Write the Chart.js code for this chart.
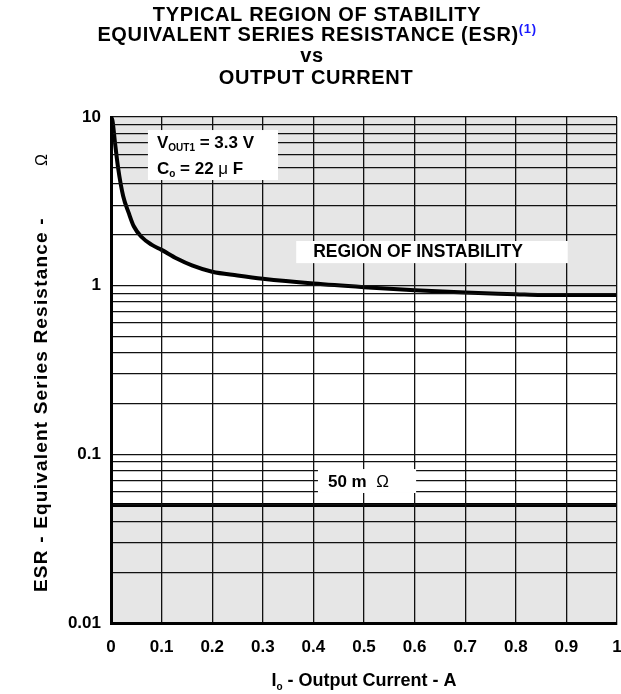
<!DOCTYPE html>
<html>
<head>
<meta charset="utf-8">
<script src="https://cdn.jsdelivr.net/npm/chart.js@4/dist/chart.umd.min.js"></script>
<style>
html,body{margin:0;padding:0;background:#fff;}
#wrap{width:621px;height:694px;}
</style>
</head>
<body>
<div id="wrap"><canvas id="c" width="621" height="694"></canvas></div>
<script>
// ---- data ----
const currentA = [0, 0.003, 0.008, 0.014, 0.024, 0.035, 0.045, 0.06, 0.08, 0.1, 0.13, 0.16, 0.2, 0.25, 0.3, 0.4, 0.5, 0.6, 0.7, 0.8, 0.85, 0.9, 1.0];
const esrBoundary = [10, 9.5, 7.0, 5.0, 3.4, 2.7, 2.25, 1.95, 1.75, 1.63, 1.45, 1.32, 1.21, 1.15, 1.10, 1.03, 0.98, 0.94, 0.91, 0.89, 0.88, 0.88, 0.88];
const limitCurrent = [0, 1];
const limitEsr = [0.05, 0.05];
const xTickValues = [0, 0.1, 0.2, 0.3, 0.4, 0.5, 0.6, 0.7, 0.8, 0.9, 1];
const yTickValues = [0.01,0.02,0.03,0.04,0.05,0.06,0.07,0.08,0.09,0.1,0.2,0.3,0.4,0.5,0.6,0.7,0.8,0.9,1,2,3,4,5,6,7,8,9,10];
const yLabelValues = [0.01, 0.1, 1, 10];
const yLabelTexts = ['0.01', '0.1', '1', '10'];

const FONT = '"Liberation Sans", Arial, Helvetica, sans-serif';
const GRAY = '#e6e6e6';

function drawRich(ctx, parts, x, y, align, spacing) {
  ctx.letterSpacing = (spacing || 0) + 'px';
  let total = 0;
  parts.forEach(p => { ctx.font = p.font; p.w = ctx.measureText(p.t).width; total += p.w; });
  let cx = align === 'center' ? x - total / 2 : (align === 'right' ? x - total : x);
  ctx.textAlign = 'left';
  ctx.textBaseline = 'alphabetic';
  parts.forEach(p => {
    ctx.font = p.font;
    ctx.fillStyle = p.color || '#000';
    ctx.fillText(p.t, cx, y + (p.dy || 0));
    cx += p.w;
  });
  ctx.letterSpacing = '0px';
}

const decor = {
  id: 'decor',
  afterDraw(chart) {
    const ctx = chart.ctx;
    const xs = chart.scales.x, ys = chart.scales.y;
    const B17 = 'bold 17px ' + FONT;
    const BT = 'bold 20px ' + FONT;
    const B10 = 'bold 10px ' + FONT;
    ctx.save();
    // title
    drawRich(ctx, [{t: 'TYPICAL REGION OF STABILITY', font: BT}], 317, 21, 'center', 0.65);
    drawRich(ctx, [{t: 'EQUIVALENT SERIES RESISTANCE (ESR)', font: BT}, {t: '(1)', font: 'bold 13px ' + FONT, dy: -8, color: '#1a1aff'}], 317, 41, 'center', 0.65);
    drawRich(ctx, [{t: 'vs', font: BT}], 312, 62, 'center', 0.65);
    drawRich(ctx, [{t: 'OUTPUT CURRENT', font: BT}], 316, 84, 'center', 0.65);

    // annotation boxes (anchored in data units)
    function box(x0, x1, yTop, yBot) {
      const l = xs.getPixelForValue(x0), r = xs.getPixelForValue(x1);
      const t = ys.getPixelForValue(yTop), b = ys.getPixelForValue(yBot);
      ctx.fillStyle = '#fff';
      ctx.fillRect(l, t, r - l, b - t);
      return {l, r, t, b};
    }
    let bx = box(0.073, 0.330, 8.37, 4.23);
    drawRich(ctx, [{t: 'V', font: B17}, {t: 'OUT1', font: B10, dy: 3}, {t: ' = 3.3 V', font: B17}], bx.l + 9, bx.t + 18, 'left');
    drawRich(ctx, [{t: 'C', font: B17}, {t: 'o', font: B10, dy: 3}, {t: ' = 22 ', font: B17}, {t: 'μ', font: '17px ' + FONT}, {t: ' F', font: B17}], bx.l + 9, bx.t + 44, 'left');

    bx = box(0.366, 0.903, 1.84, 1.36);
    drawRich(ctx, [{t: 'REGION OF INSTABILITY', font: 'bold 17.5px ' + FONT}], bx.l + 17, bx.t + 16, 'left');

    bx = box(0.409, 0.603, 0.0818, 0.059);
    drawRich(ctx, [{t: '50 m ', font: B17}, {t: ' Ω', font: '17px ' + FONT}], bx.l + 10, bx.t + 18, 'left');

    // axis titles
    drawRich(ctx, [{t: 'I', font: 'bold 18px ' + FONT}, {t: 'o', font: B10, dy: 4}, {t: ' - Output Current - A', font: 'bold 18px ' + FONT}], 364, 686, 'center');
    ctx.save();
    ctx.translate(47, 592);
    ctx.rotate(-Math.PI / 2);
    drawRich(ctx, [{t: 'ESR - Equivalent Series Resistance -', font: 'bold 19px ' + FONT}], 0, 0, 'left', 1.2);
    drawRich(ctx, [{t: 'Ω', font: '16px ' + FONT}], 432, 0, 'center');
    ctx.restore();
    ctx.restore();
  }
};

new Chart(document.getElementById('c'), {
  type: 'line',
  data: {
    datasets: [
      {
        data: currentA.map((x, i) => ({x: x, y: esrBoundary[i]})),
        borderColor: '#000', borderWidth: 4, pointRadius: 0,
        cubicInterpolationMode: 'monotone',
        fill: 'end', backgroundColor: GRAY
      },
      {
        data: limitCurrent.map((x, i) => ({x: x, y: limitEsr[i]})),
        borderColor: '#000', borderWidth: 4, pointRadius: 0,
        fill: 'start', backgroundColor: GRAY
      }
    ]
  },
  options: {
    responsive: false,
    animation: false,
    events: [],
    layout: {padding: {top: 117, right: 4, left: 0, bottom: 0}},
    plugins: {legend: {display: false}, title: {display: false}, tooltip: {enabled: false}},
    scales: {
      x: {
        type: 'linear', min: 0, max: 1,
        afterBuildTicks: s => { s.ticks = xTickValues.map(v => ({value: v})); },
        afterFit: s => { s.height = 71; s.paddingLeft = 0; s.paddingRight = 0; },
        grid: {color: '#111', lineWidth: 1.3, drawTicks: false, z: 1},
        border: {display: true, color: '#000', width: 3, z: 2},
        ticks: {
          color: '#000', padding: 14, maxRotation: 0, autoSkip: false,
          font: {family: FONT, size: 17, weight: 'bold'},
          callback: v => String(Math.round(v * 10) / 10)
        }
      },
      y: {
        type: 'logarithmic', min: 0.01, max: 10,
        afterBuildTicks: s => { s.ticks = yTickValues.map(v => ({value: v})); },
        afterFit: s => { s.width = 111; s.paddingTop = 0; s.paddingBottom = 0; },
        grid: {color: '#111', lineWidth: 1.3, drawTicks: false, z: 1},
        border: {display: true, color: '#000', width: 3, z: 2},
        ticks: {
          color: '#000', padding: 10, autoSkip: false,
          font: {family: FONT, size: 17, weight: 'bold'},
          callback: v => {
            const i = yLabelValues.findIndex(d => Math.abs(d - v) < d * 1e-6);
            return i >= 0 ? yLabelTexts[i] : '';
          }
        }
      }
    }
  },
  plugins: [decor]
});
</script>
</body>
</html>
